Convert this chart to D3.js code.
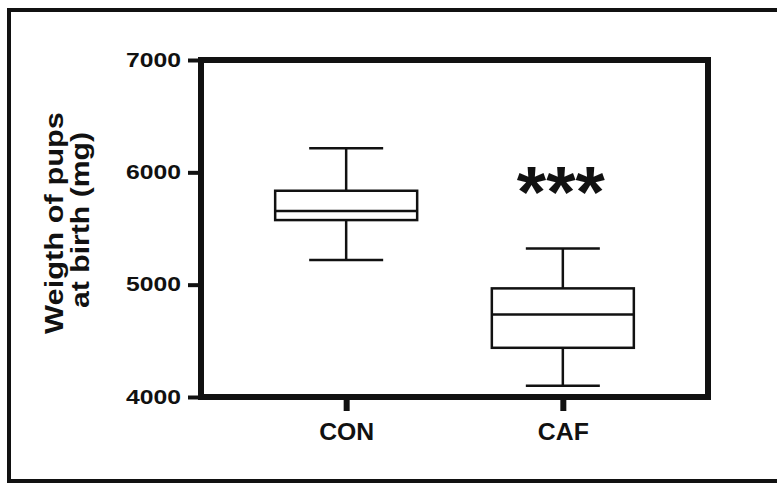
<!DOCTYPE html>
<html>
<head>
<meta charset="utf-8">
<script src="https://cdn.jsdelivr.net/npm/d3@7"></script>
<style>
  body { margin: 0; background: #fff; }
  text { font-family: "Liberation Sans", Arial, sans-serif; font-weight: bold; fill: #111; }
</style>
</head>
<body>
<div id="chart"></div>
<script>
// data
var groups = ["CON", "CAF"];
var whiskerLow  = [5220, 4100];
var quartile1   = [5575, 4438];
var medians     = [5655, 4735];
var quartile3   = [5836, 4967];
var whiskerHigh = [6214, 5323];
var yTicks = [4000, 5000, 6000, 7000];
var yTitle = ["Weigth of pups", "at birth (mg)"];
var sigLabel = "***";

var width = 777, height = 483,
    plot = {left: 201, right: 708, top: 60, bottom: 397},
    boxW = 142, capW = 74;

var svg = d3.select("#chart").append("svg")
    .attr("width", width)
    .attr("height", height);

// outer figure border (right side is cropped in the original)
svg.append("rect")
    .attr("x", 9).attr("y", 10)
    .attr("width", 790).attr("height", 471)
    .attr("fill", "none").attr("stroke", "#111").attr("stroke-width", 4);

var x = d3.scalePoint().domain(groups).range([plot.left, plot.right]).padding(0.67),
    y = d3.scaleLinear().domain([4000, 7000]).range([plot.bottom, plot.top]);

var boxes = groups.map((g, i) => ({
    name: g, lo: whiskerLow[i], q1: quartile1[i], med: medians[i], q3: quartile3[i], hi: whiskerHigh[i]
}));

// y axis
var yAxis = svg.append("g")
    .attr("transform", `translate(${plot.left},0)`)
    .call(d3.axisLeft(y).tickValues(yTicks).tickSize(13).tickPadding(7).tickFormat(d3.format("d")));
yAxis.select(".domain").remove();
yAxis.selectAll("line").attr("stroke", "#111").attr("stroke-width", 4);
yAxis.selectAll("text")
    .attr("font-size", 21).attr("dy", "0.3em")
    .attr("textLength", 55).attr("lengthAdjust", "spacingAndGlyphs");

// x axis
var xAxis = svg.append("g")
    .attr("transform", `translate(0,${plot.bottom})`)
    .call(d3.axisBottom(x).tickSize(14).tickPadding(13));
xAxis.select(".domain").remove();
xAxis.selectAll("line").attr("stroke", "#111").attr("stroke-width", 6);
xAxis.selectAll("text")
    .attr("font-size", 23)
    .attr("textLength", d => d === "CON" ? 55 : 51).attr("lengthAdjust", "spacingAndGlyphs");
svg.selectAll(".tick text").style("fill", "#111").style("font-family", '"Liberation Sans", Arial, sans-serif');

// plot frame
svg.append("rect")
    .attr("x", plot.left).attr("y", plot.top)
    .attr("width", plot.right - plot.left).attr("height", plot.bottom - plot.top)
    .attr("fill", "none").attr("stroke", "#111").attr("stroke-width", 6);

// box plots
var bx = svg.append("g").selectAll("g").data(boxes).enter().append("g")
    .attr("stroke", "#111").attr("stroke-width", 2.5).attr("fill", "none");

bx.append("line")
    .attr("x1", d => x(d.name)).attr("x2", d => x(d.name))
    .attr("y1", d => y(d.hi)).attr("y2", d => y(d.q3));
bx.append("line")
    .attr("x1", d => x(d.name)).attr("x2", d => x(d.name))
    .attr("y1", d => y(d.q1)).attr("y2", d => y(d.lo));
bx.append("line")
    .attr("x1", d => x(d.name) - capW / 2).attr("x2", d => x(d.name) + capW / 2)
    .attr("y1", d => y(d.hi)).attr("y2", d => y(d.hi));
bx.append("line")
    .attr("x1", d => x(d.name) - capW / 2).attr("x2", d => x(d.name) + capW / 2)
    .attr("y1", d => y(d.lo)).attr("y2", d => y(d.lo));
bx.append("rect")
    .attr("x", d => x(d.name) - boxW / 2).attr("width", boxW)
    .attr("y", d => y(d.q3)).attr("height", d => y(d.q1) - y(d.q3))
    .attr("fill", "#fff");
bx.append("line")
    .attr("x1", d => x(d.name) - boxW / 2).attr("x2", d => x(d.name) + boxW / 2)
    .attr("y1", d => y(d.med)).attr("y2", d => y(d.med));

// significance mark over CAF
svg.append("text")
    .attr("x", x("CAF") - 2).attr("y", 217)
    .attr("text-anchor", "middle")
    .attr("font-size", 72)
    .attr("textLength", 88).attr("lengthAdjust", "spacingAndGlyphs")
    .text(sigLabel);

// y axis title, two lines
var title = svg.append("text")
    .attr("transform", "translate(0,223) rotate(-90)")
    .attr("text-anchor", "middle")
    .attr("font-size", 25);
title.append("tspan").attr("x", 0).attr("y", 63)
    .attr("textLength", 222).attr("lengthAdjust", "spacingAndGlyphs")
    .text(yTitle[0]);
title.append("tspan").attr("x", 3).attr("y", 89)
    .attr("textLength", 176).attr("lengthAdjust", "spacingAndGlyphs")
    .text(yTitle[1]);
</script>
</body>
</html>
